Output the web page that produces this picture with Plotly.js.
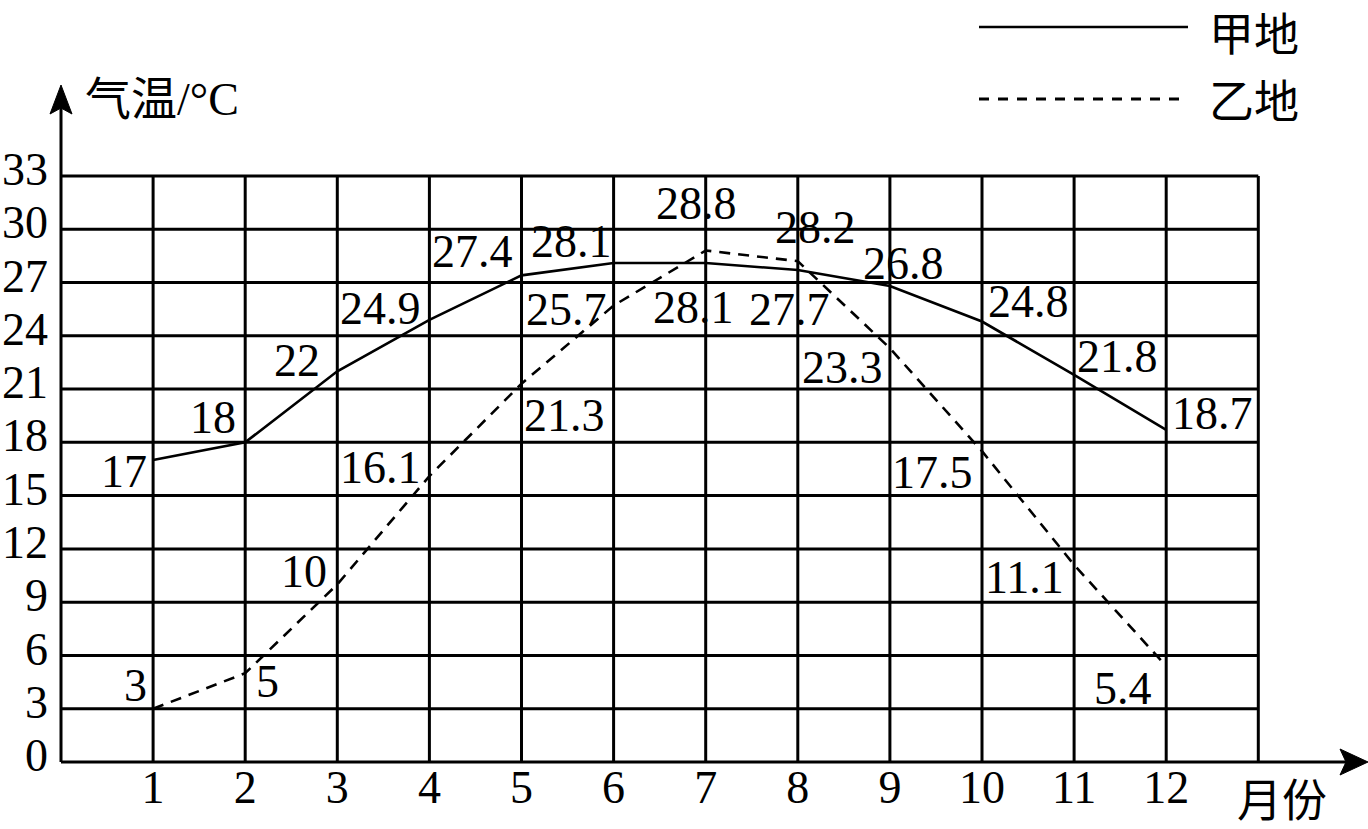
<!DOCTYPE html>
<html>
<head>
<meta charset="utf-8">
<script src="https://cdn.plot.ly/plotly-3.0.1.min.js"></script>
<style>html,body{margin:0;padding:0;background:#fff;}#chart{width:1368px;height:829px;}</style>
</head>
<body>
<div id="chart"></div>
<script>
// ---- data ----
const months = [1, 2, 3, 4, 5, 6, 7, 8, 9, 10, 11, 12];
const monthLabels = ['1', '2', '3', '4', '5', '6', '7', '8', '9', '10', '11', '12'];
const yTicks = [0, 3, 6, 9, 12, 15, 18, 21, 24, 27, 30, 33];
const yTickLabels = ['0', '3', '6', '9', '12', '15', '18', '21', '24', '27', '30', '33'];
const jiaTemps = [17, 18, 22, 24.9, 27.4, 28.1, 28.1, 27.7, 26.8, 24.8, 21.8, 18.7];
const yiTemps = [3, 5, 10, 16.1, 21.3, 25.7, 28.8, 28.2, 23.3, 17.5, 11.1, 5.4];
const seriesNames = ['甲地', '乙地'];
const xTitle = '月份';
const yTitle = '气温/°C';

// ---- label placement offsets (px) ----
const jiaShift = [[-29,-11],[-32,25],[-40,11],[-49,11],[-49,24],[-42,21],[-12,-45],[-8,-39],[14,23],[46,20],[43,18],[46,16]];
const yiShift = [[-18,23],[22,-8],[-33,13],[-49,9],[43,-32],[-47,-4],[-9,47],[18,34],[-47,-19],[-50,-21],[-50,-13],[-43,-22]];

// ---- geometry ----
const W = 1368, H = 829;
const M = {l: 61, r: 0, t: 40, b: 67};
const plotW = W - M.l - M.r, plotH = H - M.t - M.b;
const pxPerX = 92.1, pxPerY = 17.76;
const xMax = plotW / pxPerX, yMax = plotH / pxPerY;
const px2paperX = px => (px - M.l) / plotW;
const py2paperY = py => (H - M.b - py) / plotH;

const serif = 'Liberation Serif, Times New Roman, serif';
const cjk = 'Noto Sans CJK SC, sans-serif';
const mixed = 'Liberation Serif, Noto Sans CJK SC, serif';
const FS = 46;
const dashStyle = '11px,8px';

const traces = [
  {x: months, y: jiaTemps, name: seriesNames[0], type: 'scatter', mode: 'lines',
   line: {color: '#000', width: 2.6}, hoverinfo: 'skip'},
  {x: months, y: yiTemps, name: seriesNames[1], type: 'scatter', mode: 'lines',
   line: {color: '#000', width: 2.6, dash: dashStyle}, hoverinfo: 'skip'}
];

const shapes = [];
const gridRight = months[months.length - 1] + 1;
const gridTop = yTicks[yTicks.length - 1];
for (let m = 1; m <= gridRight; m++) {
  shapes.push({type: 'line', xref: 'x', yref: 'y', x0: m, x1: m, y0: 0, y1: gridTop,
    line: {color: '#000', width: 3}, layer: 'below'});
}
yTicks.forEach(v => {
  if (v === 0) return;
  shapes.push({type: 'line', xref: 'x', yref: 'y', x0: 0, x1: gridRight, y0: v, y1: v,
    line: {color: '#000', width: 3}, layer: 'below'});
});
// axes with arrows (paper coords)
shapes.push({type: 'line', xref: 'paper', yref: 'paper', x0: px2paperX(61), x1: px2paperX(61),
  y0: py2paperY(762), y1: py2paperY(106), line: {color: '#000', width: 3}});
shapes.push({type: 'line', xref: 'paper', yref: 'paper', x0: px2paperX(61), x1: px2paperX(1346),
  y0: py2paperY(762), y1: py2paperY(762), line: {color: '#000', width: 3}});
function tri(pts) {
  return 'M' + pts.map(p => px2paperX(p[0]) + ',' + py2paperY(p[1])).join(' L') + ' Z';
}
shapes.push({type: 'path', xref: 'paper', yref: 'paper',
  path: tri([[61, 85], [72, 114], [61, 108], [50, 114]]),
  fillcolor: '#000', line: {color: '#000', width: 1}});
shapes.push({type: 'path', xref: 'paper', yref: 'paper',
  path: tri([[1368, 762], [1340, 775], [1346, 762], [1340, 749]]),
  fillcolor: '#000', line: {color: '#000', width: 1}});
// legend samples
shapes.push({type: 'line', xref: 'paper', yref: 'paper', x0: px2paperX(979), x1: px2paperX(1188),
  y0: py2paperY(27), y1: py2paperY(27), line: {color: '#000', width: 2.6}});
shapes.push({type: 'line', xref: 'paper', yref: 'paper', x0: px2paperX(979), x1: px2paperX(1188),
  y0: py2paperY(99), y1: py2paperY(99), line: {color: '#000', width: 2.8, dash: '10px,9px'}});

const annotations = [];
function addLabels(vals, shifts) {
  vals.forEach((v, i) => {
    annotations.push({x: months[i], y: v, xref: 'x', yref: 'y', text: String(v), showarrow: false,
      xshift: shifts[i][0], yshift: shifts[i][1], xanchor: 'center', yanchor: 'middle',
      font: {family: serif, size: FS, color: '#000'}});
  });
}
addLabels(jiaTemps, jiaShift);
addLabels(yiTemps, yiShift);
// legend text
annotations.push({xref: 'paper', yref: 'paper', x: px2paperX(1208), y: py2paperY(31), text: seriesNames[0],
  showarrow: false, xanchor: 'left', yanchor: 'middle', borderpad: 0, font: {family: cjk, size: 45, color: '#000'}});
annotations.push({xref: 'paper', yref: 'paper', x: px2paperX(1208), y: py2paperY(98), text: seriesNames[1],
  showarrow: false, xanchor: 'left', yanchor: 'middle', borderpad: 0, font: {family: cjk, size: 45, color: '#000'}});
// axis titles
annotations.push({xref: 'paper', yref: 'paper', x: px2paperX(83), y: py2paperY(100), text: yTitle,
  showarrow: false, xanchor: 'left', yanchor: 'middle', font: {family: mixed, size: FS, color: '#000'}});
annotations.push({xref: 'paper', yref: 'paper', x: px2paperX(1282), y: py2paperY(797), text: xTitle,
  showarrow: false, xanchor: 'center', yanchor: 'middle', borderpad: 0, font: {family: cjk, size: 45, color: '#000'}});

const layout = {
  width: W, height: H,
  margin: M,
  paper_bgcolor: '#fff', plot_bgcolor: '#fff',
  showlegend: false,
  xaxis: {range: [0, xMax], tickmode: 'array', tickvals: months, ticktext: monthLabels,
    showgrid: false, zeroline: false, showline: false, ticks: '', ticklabelstandoff: -6,
    tickfont: {family: serif, size: FS, color: '#000'}, fixedrange: true},
  yaxis: {range: [0, yMax], tickmode: 'array', tickvals: yTicks, ticktext: yTickLabels,
    showgrid: false, zeroline: false, showline: false, ticks: '', ticklabelstandoff: 12, ticklabelshift: -7,
    tickfont: {family: serif, size: FS, color: '#000'}, fixedrange: true},
  shapes: shapes,
  annotations: annotations
};

Plotly.newPlot('chart', traces, layout, {displayModeBar: false, staticPlot: true});
</script>
</body>
</html>
